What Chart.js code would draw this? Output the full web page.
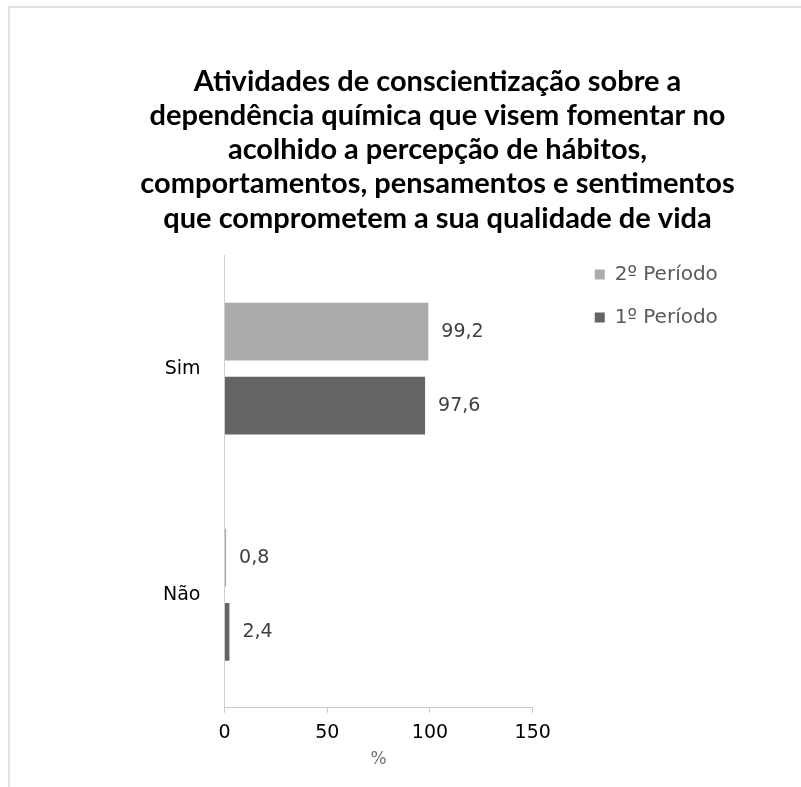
<!DOCTYPE html>
<html>
<head>
<meta charset="utf-8">
<script src="https://cdn.jsdelivr.net/npm/chart.js@4"></script>
<style>
  body { margin: 0; background: #fff; }
  #wrap { position: relative; width: 801px; height: 787px; }
  #frame { position: absolute; left: 8px; top: 6px; right: 0; bottom: 0; border-top: 2px solid #e2e2e2; border-left: 2px solid #e2e2e2; }
  canvas { position: absolute; left: 0; top: 0; }
</style>
</head>
<body>
<div id="wrap">
  <div id="frame"></div>
  <canvas id="myChart" width="801" height="787"></canvas>
</div>
<script>
const titleLines = [
  "Atividades de conscientização sobre a",
  "dependência química que visem fomentar no",
  "acolhido a percepção de hábitos,",
  "comportamentos, pensamentos e sentimentos",
  "que comprometem a sua qualidade de vida"
];
const categories = ["Sim", "Não"];
const periodo2 = [99.2, 0.8];
const periodo1 = [97.6, 2.4];
const seriesNames = ["2º Período", "1º Período"];
const xTicks = [0, 50, 100, 150];

const textFont = "'DejaVu Sans', Verdana, sans-serif";

// values written after the end of each bar, with a comma
const valueLabels = {
  id: "valueLabels",
  afterDatasetsDraw(chart) {
    const ctx = chart.ctx;
    ctx.save();
    ctx.font = "19px " + textFont;
    ctx.fillStyle = "#404040";
    ctx.textBaseline = "middle";
    ctx.textAlign = "left";
    chart.data.datasets.forEach((ds, i) => {
      chart.getDatasetMeta(i).data.forEach((bar, j) => {
        ctx.fillText(ds.data[j].toFixed(1).replace(".", ","), bar.x + 13, bar.y);
      });
    });
    ctx.restore();
  }
};

// nudge legend and title like the original excel layout
const layoutShift = {
  id: "layoutShift",
  afterLayout(chart) {
    const lg = chart.legend;
    lg.left += 39; lg.right += 139; lg.width += 100;
    lg.top -= 14; lg.bottom -= 14;
    const tb = chart.titleBlock;
    const c = (tb.left + tb.right) / 2 + 36;
    tb.left = c - 360; tb.right = c + 360; tb.width = 720;
  }
};

const ctx = document.getElementById("myChart");

new Chart(ctx, {
  type: "bar",
  data: {
    labels: categories,
    datasets: [{
      label: seriesNames[0],
      data: periodo2,
      backgroundColor: "#ababab",
      borderWidth: 0,
      categoryPercentage: 0.655,
      barPercentage: 0.78
    }, {
      label: seriesNames[1],
      data: periodo1,
      backgroundColor: "#646464",
      borderWidth: 0,
      categoryPercentage: 0.655,
      barPercentage: 0.78
    }]
  },
  options: {
    indexAxis: "y",
    responsive: false,
    animation: false,
    layout: { padding: { top: 64, left: 139, right: 137, bottom: 13 } },
    scales: {
      x: {
        min: 0,
        max: 150,
        afterBuildTicks: (axis) => { axis.ticks = xTicks.map(v => ({ value: v })); },
        grid: { drawOnChartArea: false, drawTicks: true, tickLength: 5, color: "#c8c8c8" },
        border: { color: "#c8c8c8" },
        ticks: { color: "#000", font: { family: textFont, size: 19 }, padding: 9, maxRotation: 0 },
        title: { display: true, text: "%", color: "#707070", font: { family: textFont, size: 17 }, padding: { top: -4, bottom: 4 } }
      },
      y: {
        grid: { drawOnChartArea: false, drawTicks: false, color: "#d0d0d0" },
        border: { color: "#d0d0d0" },
        ticks: { color: "#000", font: { family: textFont, size: 19 }, padding: 24 }
      }
    },
    plugins: {
      title: {
        display: true,
        text: titleLines,
        color: "#000",
        font: { family: "Lato, 'Open Sans', sans-serif", size: 29, weight: "bold", lineHeight: 1.183 },
        padding: { top: 0, bottom: 20 }
      },
      legend: {
        position: "right",
        align: "start",
        fullSize: false,
        labels: {
          boxWidth: 10,
          boxHeight: 10,
          padding: 23,
          color: "#595959",
          font: { family: textFont, size: 20 }
        }
      },
      tooltip: { enabled: false }
    }
  },
  plugins: [valueLabels, layoutShift]
});
</script>
</body>
</html>
